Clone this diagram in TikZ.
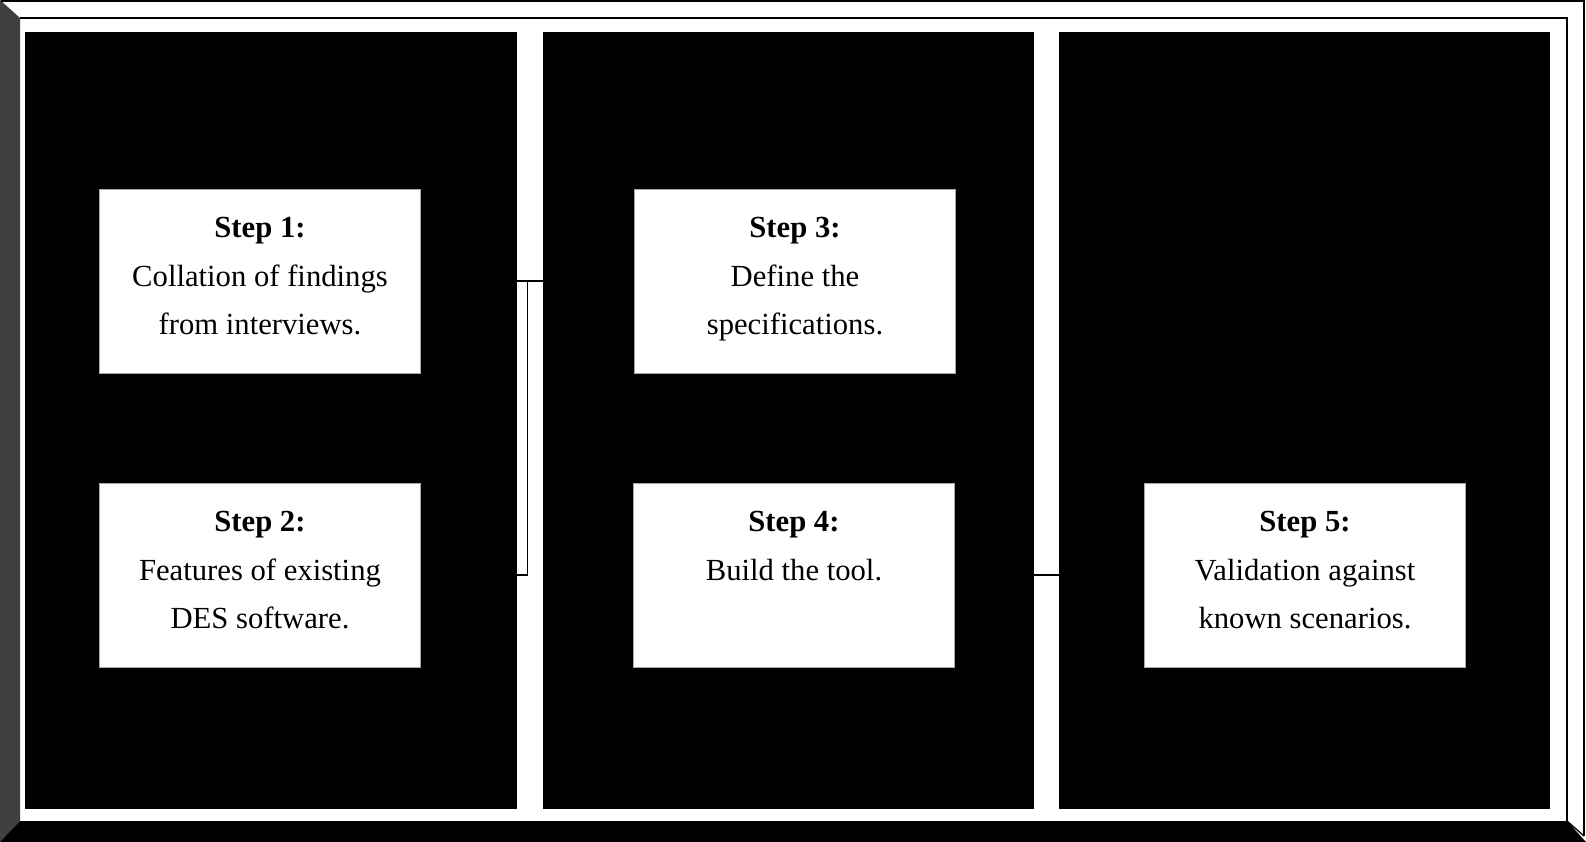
\documentclass[tikz,border=0pt]{standalone}
\usepackage{fontspec}
\setmainfont{Liberation Serif}
\usetikzlibrary{calc}
\newcommand{\sthi}{\rule{0pt}{25pt}}
\newcommand{\stlo}{\rule[-17pt]{0pt}{17pt}}

\begin{document}
\begin{tikzpicture}[x=0.75pt,y=-0.75pt,
    stepbox/.style={draw=black!35, fill=white, minimum width=241pt, minimum height=138pt,
        align=center, inner sep=0pt, font=\fontsize{23}{36.3}\selectfont},
    link/.style={black, line width=1pt}]
    \useasboundingbox (0,0) rectangle (1586,842);

    % Frame
    \fill[white] (0,0) rectangle (1586,842);
    \fill[black!75] (0,0) -- (20,18) -- (20,821) -- (0,842) -- cycle;
    \fill[black] (0,842) -- (20,821) -- (1567,821) -- (1586,842) -- cycle;
    \draw[line width=2pt] (1,1) -- (1584,1) -- (1584,836);
    \draw[line width=1.5pt] (20,18) -- (1567,18) -- (1567,821);
    \draw[line width=1pt] (1567,821) -- (1584,836);

    % Panels
    \fill[black] (25,32) rectangle (517,809);
    \fill[black] (543,32) rectangle (1034,809);
    \fill[black] (1059,32) rectangle (1550,809);

    % Steps
    \node[stepbox] (step1) at (260,281) {\sthi\textbf{Step 1:}\\ Collation of findings\\ from interviews.\stlo};
    \node[stepbox] (step2) at (260,575) {\sthi\textbf{Step 2:}\\ Features of existing\\ DES software.\stlo};
    \node[stepbox] (step3) at (795,281) {\sthi\textbf{Step 3:}\\ Define the\\ specifications.\stlo};
    \node[stepbox] (step4) at (794,575) {\sthi\textbf{Step 4:}\\ Build the tool.\\ \stlo};
    \node[stepbox] (step5) at (1305,575) {\sthi\textbf{Step 5:}\\ Validation against\\ known scenarios.\stlo};

    % Connectors
    \coordinate (brk) at ($(step1.east)!0.5!(step3.west)$);
    \draw[link] (step1.east) -- (step3.west);
    \draw[link] (step2.east) -| (brk);
    \draw[link] (step4.east) -- (step5.west);
\end{tikzpicture}
\end{document}
